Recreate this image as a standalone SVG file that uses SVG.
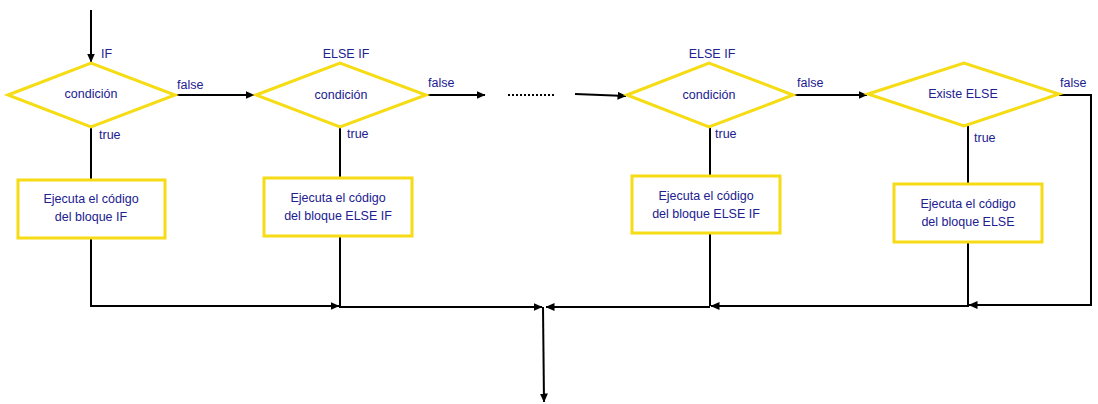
<svg xmlns="http://www.w3.org/2000/svg" width="1098" height="404" viewBox="0 0 1098 404">
<style>
.shape{fill:#fff;stroke:#F6DC14;stroke-width:3}
.t{font-family:"Liberation Sans",Arial,sans-serif;font-size:12.5px;fill:#202090}
.m{text-anchor:middle}
.c{fill:none;stroke:#000;stroke-width:2}
</style>
<defs>
<marker id="ah" markerWidth="9" markerHeight="8" refX="8.5" refY="4" orient="auto" markerUnits="userSpaceOnUse">
<path d="M0,0 L9,4 L0,8 Z" fill="#000"/>
</marker>
</defs>
<rect width="1098" height="404" fill="#fff"/>
<g id="connectors">
<path class="c" d="M91,10 V62" marker-end="url(#ah)"/>
<path class="c" d="M91,127 V180"/>
<path class="c" d="M175,95 H254" marker-end="url(#ah)"/>
<path class="c" d="M340,127 V178"/>
<path class="c" d="M426,95 H485" marker-end="url(#ah)"/>
<path d="M508,95 H554" fill="none" stroke="#000" stroke-width="2" stroke-dasharray="2,2"/>
<path class="c" d="M575,94 L626,96" marker-end="url(#ah)"/>
<path class="c" d="M710,127 V176"/>
<path class="c" d="M793,95 H867" marker-end="url(#ah)"/>
<path class="c" d="M968,126 V184"/>
<path class="c" d="M1059,95 H1091 V305 H969" marker-end="url(#ah)"/>
<path class="c" d="M91,238 V306 H339" marker-end="url(#ah)"/>
<path class="c" d="M340,236 V307 H542" marker-end="url(#ah)"/>
<path class="c" d="M710,233 V306"/>
<path class="c" d="M968,242 V306 H711" marker-end="url(#ah)"/>
<path class="c" d="M710,307 H546" marker-end="url(#ah)"/>
<path class="c" d="M543,307 L544,402" marker-end="url(#ah)"/>
</g>
<g id="labels">
<text class="t" x="101" y="58">IF</text>
<text class="t m" x="346" y="58">ELSE IF</text>
<text class="t m" x="712" y="58">ELSE IF</text>
<text class="t" x="177" y="89">false</text>
<text class="t" x="428" y="87">false</text>
<text class="t" x="797" y="87">false</text>
<text class="t" x="1060" y="87">false</text>
<text class="t" x="99" y="139">true</text>
<text class="t" x="347" y="138">true</text>
<text class="t" x="715" y="138">true</text>
<text class="t" x="974" y="142">true</text>
</g>
<g id="d1">
<polygon class="shape" points="8,95 91,63 175,95 91,127"/>
<text class="t m" x="91" y="98">condición</text>
</g>
<g id="d2">
<polygon class="shape" points="256,95 340,63 426,95 340,127"/>
<text class="t m" x="341" y="99">condición</text>
</g>
<g id="d3">
<polygon class="shape" points="627,95 709,63 793,95 709,127"/>
<text class="t m" x="709" y="99">condición</text>
</g>
<g id="d4">
<polygon class="shape" points="868,94 964,63 1059,94 964,126"/>
<text class="t m" x="963" y="98">Existe ELSE</text>
</g>
<g id="b1">
<rect class="shape" x="18" y="180" width="147" height="58"/>
<text class="t m" x="91" y="203">Ejecuta el código</text>
<text class="t m" x="91" y="221">del bloque IF</text>
</g>
<g id="b2">
<rect class="shape" x="264" y="178" width="148" height="58"/>
<text class="t m" x="338" y="202">Ejecuta el código</text>
<text class="t m" x="338" y="220">del bloque ELSE IF</text>
</g>
<g id="b3">
<rect class="shape" x="632" y="176" width="148" height="57"/>
<text class="t m" x="706" y="200">Ejecuta el código</text>
<text class="t m" x="706" y="218">del bloque ELSE IF</text>
</g>
<g id="b4">
<rect class="shape" x="894" y="184" width="148" height="58"/>
<text class="t m" x="968" y="208">Ejecuta el código</text>
<text class="t m" x="968" y="226">del bloque ELSE</text>
</g>
</svg>
